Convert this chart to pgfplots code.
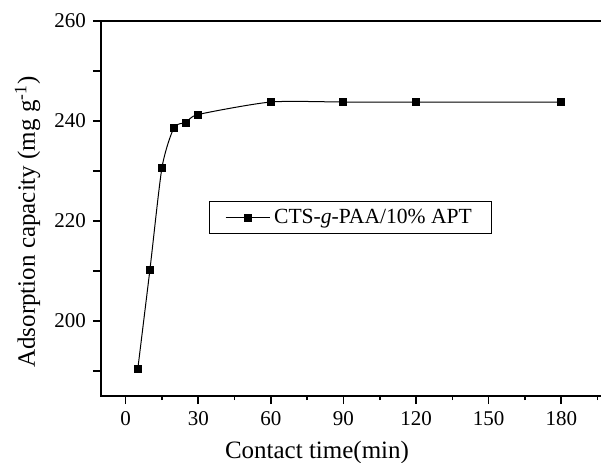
\documentclass[border=0pt]{standalone}
\usepackage{fontspec}
\setmainfont{Liberation Serif}
\usepackage{pgfplots}
\pgfplotsset{compat=1.18}

\begin{document}
\begin{tikzpicture}
\path[use as bounding box] (-50.5pt,-33.15pt) rectangle (250pt,198pt);
\clip (-50.5pt,-33.15pt) rectangle (250pt,198pt);
\begin{axis}[
  scale only axis, width=254.35pt, height=187.5pt,
  xmin=-10.2, xmax=200, ymin=185, ymax=260,
  xtick={0,30,...,180}, minor xtick={15,45,...,195},
  ytick={190,200,...,260}, yticklabels={,200,,220,,240,,260},
  tick align=outside, tick pos=left,
  major tick length=4pt, minor tick length=2pt,
  axis line style={line width=1pt},
  tick style={line width=0.8pt, black},
  ticklabel style={font=\fontsize{10.5}{12}\selectfont},
  /pgf/number format/assume math mode=true,
  xlabel={Contact time(min)},
  ylabel={Adsorption capacity (mg g\textsuperscript{-1})},
  label style={font=\fontsize{12.5}{14}\selectfont},
  xlabel style={at={(rel axis cs:0.4246,0)}, anchor=base, yshift=-31pt},
  ylabel style={at={(rel axis cs:0,0.464)}, anchor=base, yshift=33pt},
  legend style={at={(0.4905,0.476)}, anchor=center, draw=black, line width=0.5pt,
    font=\fontsize{10.8}{12}\selectfont, inner xsep=8pt, inner ysep=1.5pt},
  legend image code/.code={%
    \draw[mark repeat=2,mark phase=2,#1] plot coordinates {(0pt,0pt) (11pt,0pt) (22pt,0pt)};},
]
\addplot[black, line width=0.5pt, smooth, tension=0.4, mark=square*, mark size=1.75pt,
  mark options={solid, fill=black}] coordinates
  {(5,190.4)(10,210.2)(15,230.7)(20,238.7)(25,239.7)(30,241.3)
   (60,243.8)(90,243.8)(120,243.8)(180,243.8)};
\legend{CTS-\textit{g}-PAA/10\% APT}
\end{axis}
\end{tikzpicture}
\end{document}
